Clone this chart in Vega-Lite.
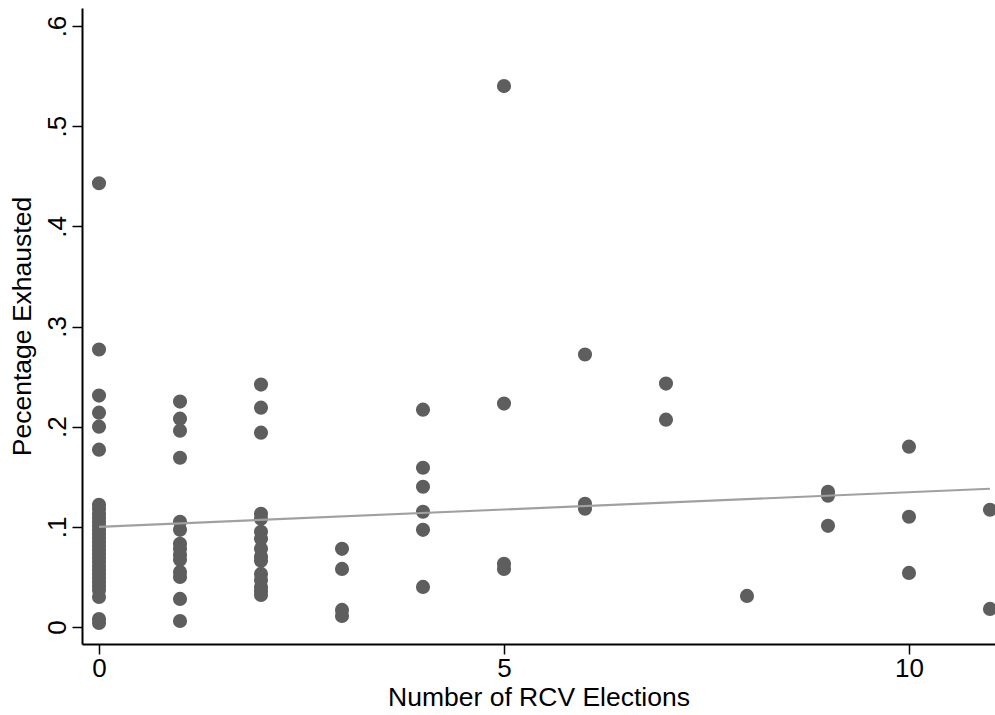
{
  "$schema": "https://vega.github.io/schema/vega-lite/v6.json",
  "width": 913,
  "height": 636,
  "autosize": {"type": "none"},
  "padding": {"left": 82, "top": 8, "right": 0, "bottom": 71},
  "background": "white",
  "config": {
    "view": {"stroke": null},
    "font": "Liberation Sans",
    "axis": {
      "grid": false,
      "domainColor": "black",
      "domainWidth": 2,
      "tickColor": "black",
      "tickWidth": 1.5,
      "tickSize": 10,
      "labelColor": "black",
      "titleColor": "black",
      "labelFont": "Liberation Sans",
      "titleFont": "Liberation Sans",
      "labelFontSize": 26,
      "titleFontSize": 26.5,
      "titleFontWeight": "normal"
    }
  },
  "datasets": {
    "points": [
      {"rcv": 0, "exhausted": 0.443}, {"rcv": 0, "exhausted": 0.277}, {"rcv": 0, "exhausted": 0.231},
      {"rcv": 0, "exhausted": 0.214}, {"rcv": 0, "exhausted": 0.200}, {"rcv": 0, "exhausted": 0.177},
      {"rcv": 0, "exhausted": 0.122}, {"rcv": 0, "exhausted": 0.118}, {"rcv": 0, "exhausted": 0.113},
      {"rcv": 0, "exhausted": 0.109}, {"rcv": 0, "exhausted": 0.105}, {"rcv": 0, "exhausted": 0.101},
      {"rcv": 0, "exhausted": 0.097}, {"rcv": 0, "exhausted": 0.093}, {"rcv": 0, "exhausted": 0.089},
      {"rcv": 0, "exhausted": 0.085}, {"rcv": 0, "exhausted": 0.081}, {"rcv": 0, "exhausted": 0.077},
      {"rcv": 0, "exhausted": 0.073}, {"rcv": 0, "exhausted": 0.069}, {"rcv": 0, "exhausted": 0.065},
      {"rcv": 0, "exhausted": 0.061}, {"rcv": 0, "exhausted": 0.057}, {"rcv": 0, "exhausted": 0.053},
      {"rcv": 0, "exhausted": 0.049}, {"rcv": 0, "exhausted": 0.045}, {"rcv": 0, "exhausted": 0.041},
      {"rcv": 0, "exhausted": 0.037}, {"rcv": 0, "exhausted": 0.030}, {"rcv": 0, "exhausted": 0.008},
      {"rcv": 0, "exhausted": 0.004},
      {"rcv": 1, "exhausted": 0.225}, {"rcv": 1, "exhausted": 0.208}, {"rcv": 1, "exhausted": 0.196},
      {"rcv": 1, "exhausted": 0.169}, {"rcv": 1, "exhausted": 0.105}, {"rcv": 1, "exhausted": 0.097},
      {"rcv": 1, "exhausted": 0.083}, {"rcv": 1, "exhausted": 0.078}, {"rcv": 1, "exhausted": 0.072},
      {"rcv": 1, "exhausted": 0.067}, {"rcv": 1, "exhausted": 0.055}, {"rcv": 1, "exhausted": 0.050},
      {"rcv": 1, "exhausted": 0.028}, {"rcv": 1, "exhausted": 0.006},
      {"rcv": 2, "exhausted": 0.242}, {"rcv": 2, "exhausted": 0.219}, {"rcv": 2, "exhausted": 0.194},
      {"rcv": 2, "exhausted": 0.113}, {"rcv": 2, "exhausted": 0.108}, {"rcv": 2, "exhausted": 0.095},
      {"rcv": 2, "exhausted": 0.088}, {"rcv": 2, "exhausted": 0.078}, {"rcv": 2, "exhausted": 0.070},
      {"rcv": 2, "exhausted": 0.066}, {"rcv": 2, "exhausted": 0.053}, {"rcv": 2, "exhausted": 0.047},
      {"rcv": 2, "exhausted": 0.040}, {"rcv": 2, "exhausted": 0.036}, {"rcv": 2, "exhausted": 0.032},
      {"rcv": 3, "exhausted": 0.078}, {"rcv": 3, "exhausted": 0.058}, {"rcv": 3, "exhausted": 0.017},
      {"rcv": 3, "exhausted": 0.011},
      {"rcv": 4, "exhausted": 0.217}, {"rcv": 4, "exhausted": 0.159}, {"rcv": 4, "exhausted": 0.140},
      {"rcv": 4, "exhausted": 0.115}, {"rcv": 4, "exhausted": 0.097}, {"rcv": 4, "exhausted": 0.040},
      {"rcv": 5, "exhausted": 0.540}, {"rcv": 5, "exhausted": 0.223}, {"rcv": 5, "exhausted": 0.063},
      {"rcv": 5, "exhausted": 0.058},
      {"rcv": 6, "exhausted": 0.272}, {"rcv": 6, "exhausted": 0.123}, {"rcv": 6, "exhausted": 0.118},
      {"rcv": 7, "exhausted": 0.243}, {"rcv": 7, "exhausted": 0.207},
      {"rcv": 8, "exhausted": 0.031},
      {"rcv": 9, "exhausted": 0.135}, {"rcv": 9, "exhausted": 0.131}, {"rcv": 9, "exhausted": 0.101},
      {"rcv": 10, "exhausted": 0.180}, {"rcv": 10, "exhausted": 0.110}, {"rcv": 10, "exhausted": 0.054},
      {"rcv": 11, "exhausted": 0.117}, {"rcv": 11, "exhausted": 0.018}
    ],
    "fit": [
      {"rcv": 0, "fitted": 0.100},
      {"rcv": 11, "fitted": 0.138}
    ]
  },
  "layer": [
    {
      "data": {"name": "points"},
      "mark": {"type": "point", "shape": "circle", "filled": true, "size": 200, "color": "#5e5e5e", "opacity": 1},
      "encoding": {
        "x": {
          "field": "rcv", "type": "quantitative",
          "scale": {"domain": [-0.21, 11.062], "nice": false, "zero": false},
          "axis": {"title": "Number of RCV Elections", "values": [0, 5, 10], "format": "d", "labelPadding": 1, "titlePadding": 3}
        },
        "y": {
          "field": "exhausted", "type": "quantitative",
          "scale": {"domain": [-0.017, 0.618], "nice": false, "zero": false},
          "axis": {
            "title": "Pecentage Exhausted",
            "values": [0, 0.1, 0.2, 0.3, 0.4, 0.5, 0.6],
            "labelExpr": "datum.value == 0 ? '0' : replace(format(datum.value, '.1f'), '0.', '.')",
            "labelAngle": -90,
            "labelAlign": "center",
            "labelBaseline": "alphabetic",
            "labelPadding": 7,
            "titlePadding": 8
          }
        }
      }
    },
    {
      "data": {"name": "fit"},
      "mark": {"type": "line", "color": "#a0a0a0", "strokeWidth": 2.2},
      "encoding": {
        "x": {"field": "rcv", "type": "quantitative"},
        "y": {"field": "fitted", "type": "quantitative"}
      }
    }
  ]
}
